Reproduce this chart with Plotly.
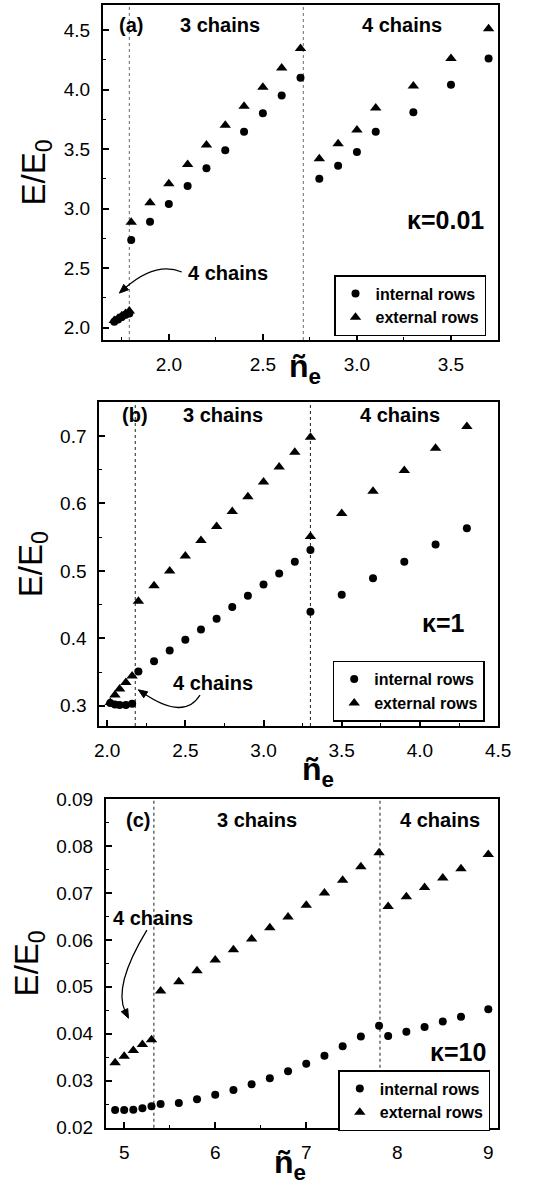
import math
import plotly.graph_objects as go

# ---------------- data ----------------
# panel (a) kappa = 0.01
a_x = [1.71, 1.73, 1.75, 1.77, 1.79, 1.8, 1.9, 2.0, 2.1, 2.2, 2.3, 2.4, 2.5, 2.6, 2.7,
       2.8, 2.9, 3.0, 3.1, 3.3, 3.5, 3.7]
a_int = [2.05, 2.07, 2.09, 2.11, 2.12, 2.737, 2.89, 3.04, 3.19, 3.34, 3.49, 3.645, 3.80, 3.95, 4.10,
         3.25, 3.36, 3.475, 3.645, 3.81, 4.04, 4.26]
a_ext = [2.06, 2.08, 2.10, 2.12, 2.14, 2.885, 3.05, 3.21, 3.37, 3.535, 3.70, 3.86, 4.02, 4.18, 4.345,
         3.42, 3.545, 3.66, 3.845, 4.03, 4.26, 4.51]
a_lines = [1.79, 2.715]

# panel (b) kappa = 1
b_x = [2.02, 2.05, 2.08, 2.12, 2.16, 2.2, 2.3, 2.4, 2.5, 2.6, 2.7, 2.8, 2.9, 3.0, 3.1, 3.2, 3.3,
       3.3, 3.5, 3.7, 3.9, 4.1, 4.3]
b_int = [0.304, 0.302, 0.301, 0.301, 0.303, 0.351, 0.366, 0.382, 0.398, 0.413, 0.429, 0.4465, 0.463,
         0.480, 0.496, 0.5135, 0.531, 0.4396, 0.4647, 0.489, 0.5136, 0.539, 0.5634]
b_ext = [0.305, 0.316, 0.325, 0.3345, 0.344, 0.455, 0.478, 0.500, 0.522, 0.545, 0.566, 0.588, 0.610,
         0.632, 0.654, 0.676, 0.698, 0.551, 0.585, 0.618, 0.649, 0.682, 0.714]
b_lines = [2.18, 3.3]

# panel (c) kappa = 10
c_x = [4.9, 5.0, 5.1, 5.2, 5.3, 5.4, 5.6, 5.8, 6.0, 6.2, 6.4, 6.6, 6.8, 7.0, 7.2, 7.4, 7.6, 7.8,
       7.9, 8.1, 8.3, 8.5, 8.7, 9.0]
c_int = [0.0237, 0.0237, 0.0238, 0.0241, 0.0245, 0.0250, 0.0252, 0.0260, 0.0270, 0.0280, 0.0292,
         0.0305, 0.0320, 0.0336, 0.0353, 0.0373, 0.0394, 0.0417, 0.0395, 0.0404, 0.0414, 0.0426,
         0.0436, 0.0452]
c_ext = [0.0338, 0.0352, 0.0364, 0.0377, 0.0387, 0.0491, 0.0511, 0.0534, 0.0557, 0.0579, 0.0602,
         0.0626, 0.0649, 0.0674, 0.0700, 0.0727, 0.0756, 0.0786, 0.0671, 0.0692, 0.0712, 0.0732,
         0.0752, 0.0782]
c_lines = [5.326, 7.81]

series_names = ["internal rows", "external rows"]
panel_labels = ["(a)", "(b)", "(c)"]
kappa_labels = ["\u03ba=0.01", "\u03ba=1", "\u03ba=10"]

# ---------------- figure ----------------
W, H = 542, 1190
FONT = "Liberation Sans, Arial, sans-serif"
fig = go.Figure()


def px_dom(x0, x1, y0, y1):
    return [x0 / W, x1 / W], [1 - y1 / H, 1 - y0 / H]


dom_a = px_dom(103, 498, 5, 340)
dom_b = px_dom(99.3, 498.3, 402.3, 726)
dom_c = px_dom(106, 498.3, 799, 1127.7)

rng = {
    "a": ([1.65, 3.75], [1.897, 4.71]),
    "b": ([1.95, 4.501], [0.27, 0.75]),
    "c": ([4.8, 9.11], [0.01995, 0.09005]),
}

panels = [
    dict(key="a", x=a_x, i=a_int, e=a_ext, lines=a_lines, xs="x", ys="y", leg="legend",
         dom=dom_a, lc="#777777"),
    dict(key="b", x=b_x, i=b_int, e=b_ext, lines=b_lines, xs="x2", ys="y2", leg="legend2",
         dom=dom_b, lc="#333333"),
    dict(key="c", x=c_x, i=c_int, e=c_ext, lines=c_lines, xs="x3", ys="y3", leg="legend3",
         dom=dom_c, lc="#333333"),
]

for p in panels:
    fig.add_trace(go.Scatter(x=p["x"], y=p["i"], mode="markers",
                             name="<b>" + series_names[0] + "</b>",
                             xaxis=p["xs"], yaxis=p["ys"], legend=p["leg"],
                             marker=dict(symbol="circle", size=8, color="black")))
    fig.add_trace(go.Scatter(x=p["x"], y=p["e"], mode="markers",
                             name="<b>" + series_names[1] + "</b>",
                             xaxis=p["xs"], yaxis=p["ys"], legend=p["leg"],
                             marker=dict(symbol="triangle-up", size=10, color="black")))
    for xv in p["lines"]:
        fig.add_shape(type="line", xref=p["xs"], yref=p["ys"] + " domain", x0=xv, x1=xv, y0=0, y1=1,
                      line=dict(color=p["lc"], width=1.1, dash="dot"), layer="below")

tickfont = dict(family=FONT, size=19, color="black")
axis_common = dict(showline=True, linecolor="black", linewidth=2, mirror=True,
                   ticks="inside", ticklen=6, tickwidth=1.6, tickcolor="black",
                   showgrid=False, zeroline=False, tickfont=tickfont)


def minor(d):
    return dict(dtick=d, ticks="inside", ticklen=3, tickwidth=1.3, tickcolor="black", showgrid=False)


ytitle = dict(text="E/E<sub>0</sub>", font=dict(family=FONT, size=33, color="black"), standoff=8)

fig.update_layout(
    width=W, height=H, margin=dict(l=0, r=0, t=0, b=0, autoexpand=False),
    paper_bgcolor="white", plot_bgcolor="white",
    font=dict(family=FONT, color="black"),
    xaxis=dict(domain=dom_a[0], anchor="y", range=rng["a"][0], dtick=0.5, tick0=0,
               tickformat=".1f", minor=minor(0.25), ticklabelstandoff=6, **axis_common),
    yaxis=dict(domain=dom_a[1], anchor="x", range=rng["a"][1], dtick=0.5, tick0=0,
               tickformat=".1f", minor=minor(0.25), ticklabelstandoff=7, title=ytitle, **axis_common),
    xaxis2=dict(domain=dom_b[0], anchor="y2", range=rng["b"][0], dtick=0.5, tick0=0,
                tickformat=".1f", minor=minor(0.25), ticklabelstandoff=6, **axis_common),
    yaxis2=dict(domain=dom_b[1], anchor="x2", range=rng["b"][1], dtick=0.1, tick0=0,
                tickformat=".1f", minor=minor(0.05), ticklabelstandoff=7, title=ytitle, **axis_common),
    xaxis3=dict(domain=dom_c[0], anchor="y3", range=rng["c"][0], dtick=1, tick0=0,
                tickformat="d", minor=minor(0.5), ticklabelstandoff=6, **axis_common),
    yaxis3=dict(domain=dom_c[1], anchor="x3", range=rng["c"][1], dtick=0.01, tick0=0,
                tickformat=".2f", minor=minor(0.005), ticklabelstandoff=7, title=ytitle, **axis_common),
)

legfont = dict(family=FONT, size=16, color="black")
legend_common = dict(font=legfont, bgcolor="white", bordercolor="black", borderwidth=1.5,
                     xanchor="left", yanchor="top", tracegroupgap=0,
                     xref="paper", yref="paper", itemwidth=30)
fig.update_layout(
    legend=dict(x=334 / W, y=1 - 275 / H, **legend_common),
    legend2=dict(x=332.7 / W, y=1 - 660.7 / H, **legend_common),
    legend3=dict(x=338.3 / W, y=1 - 1070 / H, **legend_common),
)

bold20 = dict(family=FONT, size=20, color="black")
kfont = dict(family=FONT, size=25, color="black")


def txt(xs, ys, x, y, text, font):
    fig.add_annotation(xref=xs + " domain", yref=ys + " domain", x=x, y=y, text=text,
                       showarrow=False, font=font, xanchor="center", yanchor="middle")


# panel (a) texts
txt("x", "y", 0.070, 0.940, "<b>" + panel_labels[0] + "</b>", bold20)
txt("x", "y", 0.296, 0.940, "<b>3 chains</b>", bold20)
txt("x", "y", 0.756, 0.940, "<b>4 chains</b>", bold20)
txt("x", "y", 0.866, 0.358, "<b>" + kappa_labels[0] + "</b>", kfont)
txt("x", "y", 0.316, 0.200, "<b>4 chains</b>", bold20)
# panel (b) texts
txt("x2", "y2", 0.0895, 0.961, "<b>" + panel_labels[1] + "</b>", bold20)
txt("x2", "y2", 0.311, 0.961, "<b>3 chains</b>", bold20)
txt("x2", "y2", 0.754, 0.961, "<b>4 chains</b>", bold20)
txt("x2", "y2", 0.862, 0.318, "<b>" + kappa_labels[1] + "</b>", kfont)
txt("x2", "y2", 0.286, 0.133, "<b>4 chains</b>", bold20)
# panel (c) texts
txt("x3", "y3", 0.0824, 0.936, "<b>" + panel_labels[2] + "</b>", bold20)
txt("x3", "y3", 0.384, 0.936, "<b>3 chains</b>", bold20)
txt("x3", "y3", 0.851, 0.936, "<b>4 chains</b>", bold20)
txt("x3", "y3", 0.1206, 0.638, "<b>4 chains</b>", bold20)
txt("x3", "y3", 0.898, 0.231, "<b>" + kappa_labels[2] + "</b>", kfont)

# x-axis titles (n-tilde sub e)
xt_font = dict(family=FONT, size=32, color="black")
for xp, yp in [(305, 368), (318, 771), (290, 1164)]:
    fig.add_annotation(xref="paper", yref="paper", x=xp / W, y=1 - yp / H,
                       text="<b>\u00f1</b><sub><b>e</b></sub>", showarrow=False, font=xt_font,
                       xanchor="center", yanchor="middle")

# curved arrows: quadratic path + filled arrow head (sized in screen pixels)
arrows = [
    ("a", "x", "y", (2.069, 2.468), (1.93, 2.56), (1.737, 2.291)),
    ("b", "x2", "y2", (2.594, 0.316), (2.4935, 0.278), (2.199, 0.3237)),
    ("c", "x3", "y3", (5.249, 0.0621), (4.874, 0.0501), (5.047, 0.0433)),
]
doms = {"a": dom_a, "b": dom_b, "c": dom_c}
for key, xs, ys, s, c, e in arrows:
    (xr, yr), (xd, yd) = rng[key], doms[key]
    sx = (xd[1] - xd[0]) * W / (xr[1] - xr[0])   # px per x unit
    sy = (yd[1] - yd[0]) * H / (yr[1] - yr[0])   # px per y unit
    dx = (e[0] - c[0]) * sx
    dy = -(e[1] - c[1]) * sy
    n = math.hypot(dx, dy)
    ux, uy = dx / n, dy / n
    L, hw = 9.0, 3.6
    bx, by = -ux * L, -uy * L
    p1 = (bx - uy * hw, by + ux * hw)
    p2 = (bx + uy * hw, by - ux * hw)

    def to_data(off):
        return e[0] + off[0] / sx, e[1] - off[1] / sy

    base = to_data((bx * 0.8, by * 0.8))
    fig.add_shape(type="path", xref=xs, yref=ys,
                  path=f"M {s[0]},{s[1]} Q {c[0]},{c[1]} {base[0]},{base[1]}",
                  line=dict(color="black", width=1.3))
    q1, q2 = to_data(p1), to_data(p2)
    fig.add_shape(type="path", xref=xs, yref=ys,
                  path=f"M {e[0]},{e[1]} L {q1[0]},{q1[1]} L {q2[0]},{q2[1]} Z",
                  fillcolor="black", line=dict(color="black", width=1))

fig.write_html("out.html", config={"displayModeBar": False},
               post_script="document.body.style.margin='0px';")
